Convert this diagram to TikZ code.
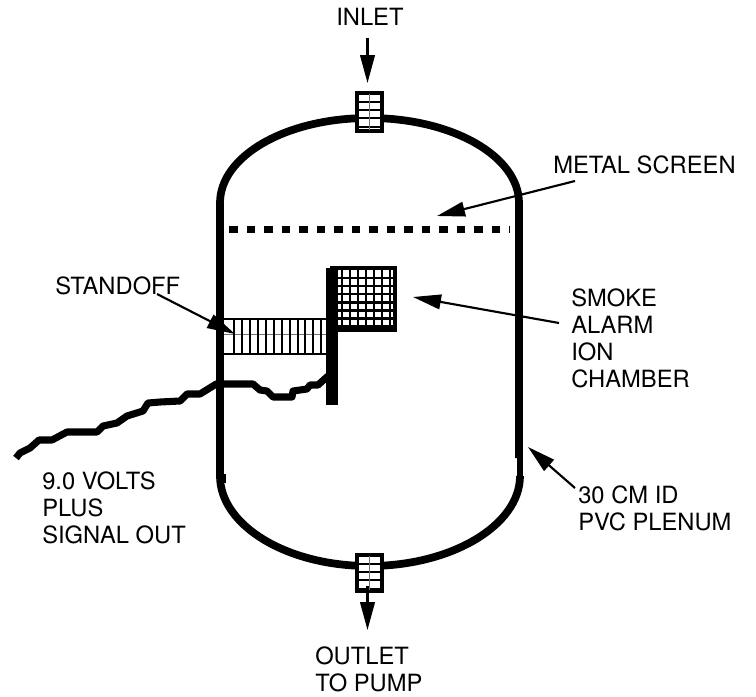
\documentclass[tikz,border=0pt]{standalone}
\usepackage{fontspec}
\setmainfont{TeX Gyre Heros}
\usetikzlibrary{arrows.meta}
\tikzset{
  plenumwall/.style={line width=5.8pt},
  screenline/.style={line width=5.6pt, dash pattern=on 6.2pt off 6.925pt},
  wirepath/.style={line width=5.3pt, line join=round},
  leader/.style={-{Triangle[length=21pt, width=11pt]}, line width=1.6pt},
  hatchline/.style={line width=1.5pt},
  fineline/.style={line width=0.35pt, black!55},
  portbox/.style={draw, line width=3pt, fill=white, minimum width=18.75pt, minimum height=28.5pt, inner sep=0pt},
  textlabel/.style={font=\fontsize{17.8}{20.25}\selectfont, align=left, inner sep=0pt, anchor=north west}
}
\begin{document}
\begin{tikzpicture}[x=0.75pt, y=-0.75pt]
  \useasboundingbox (0,0) rectangle (756,696);
  % plenum
  \draw[plenumwall] (220,476) -- (220,203) .. controls (220,156) and (286,118) .. (369,118)
    .. controls (452,118) and (519,156) .. (519,203) -- (519,458);
  \draw[line width=4.6pt] (520,458) -- (520,476);
  \draw[plenumwall] (220,476) .. controls (220,525) and (286,566) .. (369,566)
    .. controls (452,566) and (520,525) .. (520,476);
  \fill (220,474) rectangle (226,483);
  % screen
  \draw[screenline] (229.3,229.5) -- (510,229.5);
  % standoff
  \draw[line width=1.8pt] (224,319) -- (326,319) (224,354) -- (326,354);
  \draw[fineline] (224,334) -- (326,334);
  \foreach \px in {0,...,11} {
    \draw[hatchline] ({234.3+7.9*\px},319) -- ({234.3+7.9*\px},354);
  }
  % chamber
  \foreach \px in {0,...,6} {
    \draw[line width=1.9pt] ({342+8*\px},267) -- ({342+8*\px},331);
  }
  \foreach \py in {0,...,6} {
    \draw[line width=1.9pt] (331,{278+8.1*\py}) -- (396,{278+8.1*\py});
  }
  \draw[line width=3.2pt] (332,268) rectangle (395,330);
  \fill (326,268) rectangle (338,405);
  % wire
  \draw[wirepath] (16,458) -- (20,453) -- (30,448) -- (39,440) -- (52,440) -- (67,432) -- (97,432)
    -- (103,426) -- (117,423) -- (127,416) -- (143,411) -- (148,403) -- (160,402) -- (180,401)
    -- (187,394) -- (200,394) -- (213,386) -- (216,384) -- (253,384) -- (260,390) -- (267,391)
    -- (273,397) -- (292,397) -- (293,391) -- (307,389) -- (310,385) -- (318,385) -- (328,376);
  % ports
  \node[portbox] (inport) at (369.5,112) {};
  \node[portbox, minimum height=27pt] (outport) at (369.5,573) {};
  \foreach \py in {102,110,118,127} {
    \draw[line width=1.7pt] (358,\py) -- (381,\py);
  }
  \foreach \py in {564,572,580,589} {
    \draw[line width=1.7pt] (358,\py) -- (381,\py);
  }
  \draw[fineline] (369.5,94) -- (369.5,130) (369.5,556) -- (369.5,590);
  % labels
  \node[textlabel] (inletlabel) at (336,8) {INLET};
  \node[textlabel] (screenlabel) at (553,156) {METAL SCREEN};
  \node[textlabel] (standofflabel) at (55,276) {STANDOFF};
  \node[textlabel] (ionlabel) at (571,288.5) {SMOKE\\ALARM\\ION\\CHAMBER};
  \node[textlabel] (wirelabel) at (42,471.5) {9.0 VOLTS\\PLUS\\SIGNAL OUT};
  \node[textlabel] (plenumlabel) at (578,485) {30 CM ID\\PVC PLENUM};
  \node[textlabel] (outletlabel) at (315,646) {OUTLET\\TO PUMP};
  % leaders
  \coordinate (inlettail) at (367.5,38);
  \coordinate (inlettip) at (367.5,83);
  \coordinate (outlettail) at (367.5,586);
  \coordinate (outlettip) at (367.5,630);
  \coordinate (screentail) at (575,181);
  \coordinate (screentip) at (437,216);
  \coordinate (standofftail) at (157,294);
  \coordinate (standofftip) at (235,334);
  \coordinate (iontail) at (559,323);
  \coordinate (iontip) at (413,297);
  \coordinate (plenumtail) at (575,488);
  \coordinate (plenumtip) at (528,447);
  \draw[leader] (inlettail) -- (inlettip);
  \draw[leader] (outlettail) -- (outlettip);
  \draw[leader] (screentail) -- (screentip);
  \draw[leader] (standofftail) -- (standofftip);
  \draw[leader] (iontail) -- (iontip);
  \draw[leader] (plenumtail) -- (plenumtip);
\end{tikzpicture}
\end{document}
